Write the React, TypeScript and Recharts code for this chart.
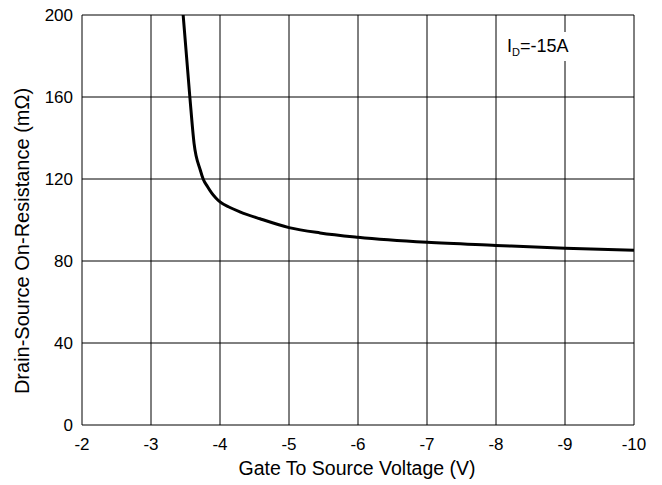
import React from "react";
import { LineChart, Line, XAxis, YAxis, CartesianGrid, Label } from "recharts";

const vgs = [-3.466, -3.563, -3.624, -3.714, -3.756, -3.82, -3.878, -3.94, -4.0, -4.144, -4.288, -4.579, -5, -5.45, -6, -7, -8, -9, -10];
const rds = [200, 160, 137.4, 124.4, 120, 116.2, 113.2, 110.7, 108.8, 106.1, 104.0, 100.6, 96.3, 93.7, 91.6, 89.1, 87.6, 86.2, 85.2];
const xTicks = [-2, -3, -4, -5, -6, -7, -8, -9, -10];
const yTicks = [0, 40, 80, 120, 160, 200];
const xTitle = "Gate To Source Voltage (V)";
const yTitle = "Drain-Source On-Resistance (mΩ)";

const data = vgs.map((v, i) => ({ v, r: rds[i] }));
const FONT = "'Liberation Sans', Arial, sans-serif";

export default function App() {
  return (
    <div style={{ position: "absolute", left: 0, top: 0, width: 662, height: 485, background: "#fff", fontFamily: FONT }}>
      <LineChart width={662} height={485} data={data} margin={{ top: 15, right: 28, bottom: 30, left: 0 }}>
        <CartesianGrid stroke="#000" strokeWidth={1} horizontalValues={yTicks} verticalValues={xTicks} />
        <XAxis
          dataKey="v"
          type="number"
          domain={[-10, -2]}
          reversed
          ticks={xTicks}
          interval={0}
          height={30}
          axisLine={false}
          tickLine={false}
          tickSize={0}
          tickMargin={13}
          tick={{ fill: "#000", fontSize: 17, fontFamily: FONT }}
        >
          <Label
            content={() => (
              <text x={357} y={468} textAnchor="middle" dominantBaseline="central" fontSize={19.5} fontFamily={FONT} fill="#000">
                {xTitle}
              </text>
            )}
          />
        </XAxis>
        <YAxis
          type="number"
          domain={[0, 200]}
          ticks={yTicks}
          interval={0}
          width={82}
          axisLine={false}
          tickLine={false}
          tickSize={0}
          tickMargin={9}
          allowDataOverflow
          tick={{ fill: "#000", fontSize: 17, fontFamily: FONT }}
        >
          <Label
            content={() => (
              <text
                x={22}
                y={241}
                transform="rotate(-90 22 241)"
                textAnchor="middle"
                dominantBaseline="central"
                fontSize={20}
                fontFamily={FONT}
                fill="#000"
              >
                {yTitle}
              </text>
            )}
          />
        </YAxis>
        <Line
          dataKey="r"
          type="monotone"
          stroke="#000"
          strokeWidth={3}
          dot={false}
          activeDot={false}
          isAnimationActive={false}
        />
      </LineChart>
      <div
        style={{
          position: "absolute",
          left: 501,
          top: 32,
          width: 80,
          height: 29,
          background: "#fff",
          fontSize: 18,
          lineHeight: "29px",
          color: "#000",
          fontFamily: FONT,
          paddingLeft: 6,
          boxSizing: "border-box",
          whiteSpace: "nowrap",
        }}
      >
        I<sub style={{ fontSize: 11, verticalAlign: "-4px" }}>D</sub>=-15A
      </div>
    </div>
  );
}
